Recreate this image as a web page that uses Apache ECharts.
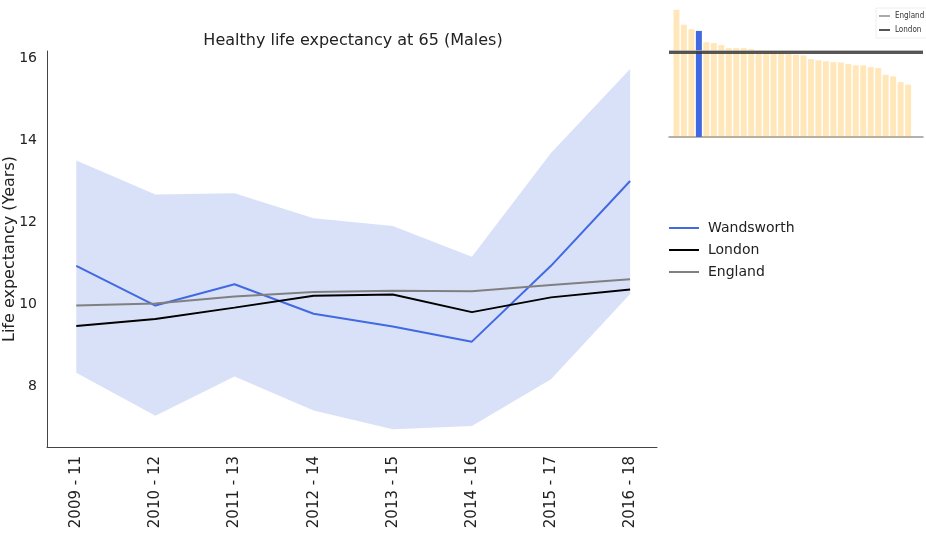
<!DOCTYPE html>
<html>
<head>
<meta charset="utf-8">
<script src="https://cdn.jsdelivr.net/npm/echarts@6/dist/echarts.min.js"></script>
<style>
  html, body { margin: 0; padding: 0; background: #fff; }
  #main { width: 926px; height: 534px; }
</style>
</head>
<body>
<div id="main"></div>
<script>
// periods on the x axis
var periods = ['2009 - 11', '2010 - 12', '2011 - 13', '2012 - 14', '2013 - 15', '2014 - 16', '2015 - 17', '2016 - 18'];
// healthy life expectancy at 65, males
var wandsworth = [10.93, 9.96, 10.48, 9.76, 9.45, 9.08, 10.93, 13.0];
var london     = [9.46, 9.63, 9.91, 10.20, 10.23, 9.80, 10.16, 10.35];
var england    = [9.96, 10.01, 10.18, 10.29, 10.32, 10.31, 10.46, 10.60];
// confidence interval for Wandsworth
var ciLower = [8.32, 7.27, 8.23, 7.40, 6.94, 7.02, 8.16, 10.24];
var ciUpper = [13.50, 12.67, 12.70, 12.09, 11.90, 11.15, 13.68, 15.73];
// y tick labels
var yTicks = [8, 10, 12, 14, 16];
// latest period, all boroughs (sorted), Wandsworth highlighted
var boroughLatest = [15.59, 13.76, 13.22, 13.0, 11.63, 11.51, 11.27, 10.90, 10.90, 10.90, 10.78,
  10.61, 10.49, 10.45, 10.37, 10.20, 10.08, 10.00, 9.55, 9.39, 9.27, 9.18, 9.14, 8.94, 8.78,
  8.78, 8.57, 8.45, 7.63, 7.43, 6.73, 6.41];
var wandsworthRank = 3;

var font = 'DejaVu Sans';
var myChart = echarts.init(document.getElementById('main'));

function toPoints(arr) {
    return arr.map(function (v, i) { return [i, v]; });
}

var last = periods.length - 1;

var option = {
    animation: false,
    backgroundColor: '#fff',
    textStyle: { fontFamily: font },
    title: {
        text: 'Healthy life expectancy at 65 (Males)',
        left: 348,
        textAlign: 'center',
        top: 28,
        textStyle: { fontFamily: font, fontSize: 16, fontWeight: 'normal', color: '#222' }
    },
    legend: [
        {
            data: ['Wandsworth', 'London', 'England'],
            orient: 'vertical',
            left: 664,
            top: 216,
            icon: 'rect',
            itemWidth: 30,
            itemHeight: 2,
            itemGap: 8,
            textStyle: { fontFamily: font, fontSize: 14, color: '#222', padding: [0, 0, 0, 4] }
        },
        {
            data: ['England ', 'London '],
            orient: 'vertical',
            left: 876,
            top: 8,
            icon: 'rect',
            itemWidth: 11,
            itemHeight: 2,
            itemGap: 6,
            padding: [4, 4, 4, 3],
            borderColor: '#eee',
            borderWidth: 1,
            formatter: function (name) { return name.trim(); },
            textStyle: { fontFamily: 'DejaVu Sans Condensed, DejaVu Sans', fontSize: 8, color: '#333' }
        }
    ],
    grid: [
        { left: 47, right: 269, top: 51, bottom: 87, containLabel: false, outerBoundsMode: 'none' },
        { left: 669, right: 3, top: 4, bottom: 397, containLabel: false, outerBoundsMode: 'none' }
    ],
    xAxis: [
        {
            type: 'value',
            gridIndex: 0,
            min: -0.37,
            max: 7.34,
            splitLine: { show: false },
            axisLine: { onZero: false, lineStyle: { color: '#444', width: 1 } },
            axisTick: { show: false },
            axisLabel: {
                customValues: periods.map(function (p, i) { return i; }),
                formatter: function (v) { return periods[v]; },
                rotate: 90,
                margin: 9,
                fontFamily: font,
                fontSize: 15,
                color: '#222'
            }
        },
        {
            type: 'value',
            gridIndex: 1,
            min: -1,
            max: 33,
            splitLine: { show: false },
            axisLine: { onZero: false, lineStyle: { color: '#999', width: 1.5 } },
            axisTick: { show: false },
            axisLabel: { show: false }
        }
    ],
    yAxis: [
        {
            type: 'value',
            gridIndex: 0,
            min: 6.51,
            max: 16.17,
            name: 'Life expectancy (Years)',
            nameLocation: 'middle',
            nameGap: 29,
            nameMoveOverlap: false,
            nameTextStyle: { fontFamily: font, fontSize: 16, color: '#222' },
            splitLine: { show: false },
            axisLine: { show: true, onZero: false, lineStyle: { color: '#444', width: 1 } },
            axisTick: { show: false },
            axisLabel: {
                customValues: yTicks,
                margin: 10,
                fontFamily: font,
                fontSize: 14,
                color: '#222'
            }
        },
        {
            type: 'value',
            gridIndex: 1,
            min: 0,
            max: 16.3,
            splitLine: { show: false },
            axisLine: { show: false, onZero: false },
            axisTick: { show: false },
            axisLabel: { show: false }
        }
    ],
    series: [
        {
            name: 'CI',
            type: 'custom',
            xAxisIndex: 0,
            yAxisIndex: 0,
            silent: true,
            z: 1,
            data: periods.map(function (p, i) { return [i, ciLower[i], ciUpper[i]]; }),
            encode: { x: 0, y: [1, 2] },
            renderItem: function (params, api) {
                if (params.dataIndex !== 0) return;
                var pts = [];
                var i;
                for (i = 0; i < periods.length; i++) pts.push(api.coord([i, ciUpper[i]]));
                for (i = periods.length - 1; i >= 0; i--) pts.push(api.coord([i, ciLower[i]]));
                return {
                    type: 'polygon',
                    shape: { points: pts },
                    style: { fill: 'rgba(65,105,225,0.2)', stroke: null }
                };
            }
        },
        {
            name: 'Wandsworth',
            type: 'line',
            xAxisIndex: 0,
            yAxisIndex: 0,
            data: toPoints(wandsworth),
            symbol: 'none',
            z: 3,
            lineStyle: { color: '#4169e1', width: 2 },
            itemStyle: { color: '#4169e1' }
        },
        {
            name: 'London',
            type: 'line',
            xAxisIndex: 0,
            yAxisIndex: 0,
            data: toPoints(london),
            symbol: 'none',
            z: 3,
            lineStyle: { color: '#000', width: 2 },
            itemStyle: { color: '#000' }
        },
        {
            name: 'England',
            type: 'line',
            xAxisIndex: 0,
            yAxisIndex: 0,
            data: toPoints(england),
            symbol: 'none',
            z: 3,
            lineStyle: { color: '#808080', width: 2 },
            itemStyle: { color: '#808080' }
        },
        {
            name: 'Boroughs',
            type: 'bar',
            xAxisIndex: 1,
            yAxisIndex: 1,
            barWidth: 6,
            z: 1,
            data: boroughLatest.map(function (v, i) {
                return {
                    value: [i, v],
                    itemStyle: { color: i === wandsworthRank ? '#4169e1' : 'rgba(255,165,0,0.27)' }
                };
            })
        },
        {
            name: 'England ',
            type: 'line',
            xAxisIndex: 1,
            yAxisIndex: 1,
            data: [],
            symbol: 'none',
            lineStyle: { color: '#aaa', width: 1.5 },
            itemStyle: { color: '#aaa' },
            markLine: {
                silent: true,
                symbol: ['none', 'none'],
                label: { show: false },
                lineStyle: { color: '#aaa', width: 1.5, type: 'solid' },
                data: [{ yAxis: england[last] }]
            }
        },
        {
            name: 'London ',
            type: 'line',
            xAxisIndex: 1,
            yAxisIndex: 1,
            data: [],
            symbol: 'none',
            lineStyle: { color: '#555', width: 3 },
            itemStyle: { color: '#555' },
            markLine: {
                silent: true,
                symbol: ['none', 'none'],
                label: { show: false },
                lineStyle: { color: 'rgba(60,60,60,0.85)', width: 3, type: 'solid' },
                data: [{ yAxis: london[last] }]
            }
        }
    ]
};

myChart.setOption(option);
</script>
</body>
</html>
